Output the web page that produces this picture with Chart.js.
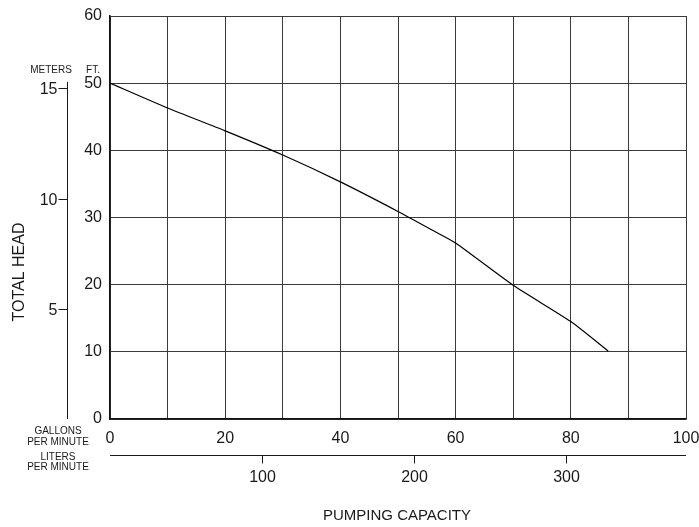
<!DOCTYPE html>
<html>
<head>
<meta charset="utf-8">
<script src="https://cdn.jsdelivr.net/npm/chart.js@4"></script>
<style>
  html, body { margin: 0; padding: 0; background: #fff; }
  #wrap { width: 699px; height: 527px; }
</style>
</head>
<body>
<div id="wrap"><canvas id="curva"></canvas></div>
<script>
// Pump curve
const gpm = [0, 10, 20, 30, 40, 50, 56, 60, 70, 80, 86.5];
const headFt = [50, 46.3, 42.9, 39.3, 35.3, 30.9, 28.1, 26.2, 19.9, 14.5, 10.1];

// Axis ticks
const ftTicks = [0, 10, 20, 30, 40, 50, 60];
const meterTicks = [0, 5, 10, 15];
const literTicks = [100, 200, 300];

const FT_PER_M = 3.28084;
const L_PER_GAL = 3.78541;
const FONT = 'Liberation Sans, Arial, sans-serif';
const INK = '#1a1a1a';

// Secondary axes (meters and liters) + titles drawn from the chart's own scales
const extraAxes = {
    id: 'extraAxes',
    afterDraw(chart) {
        const c = chart.ctx;
        const xs = chart.scales.x, ys = chart.scales.y;
        c.save();
        c.strokeStyle = INK;
        c.fillStyle = INK;
        c.lineWidth = 1;

        // meters axis
        const mx = 67.5;
        c.beginPath();
        c.moveTo(mx, ys.getPixelForValue(0));
        c.lineTo(mx, ys.getPixelForValue(15.3 * FT_PER_M));
        c.stroke();
        c.font = '16px ' + FONT;
        c.textAlign = 'right';
        c.textBaseline = 'middle';
        meterTicks.forEach(m => {
            if (m === 0) return;
            const py = Math.round(ys.getPixelForValue(m * FT_PER_M)) + 0.5;
            c.beginPath();
            c.moveTo(mx - 9, py);
            c.lineTo(mx, py);
            c.stroke();
            c.fillText(String(m), mx - 10, py + 1);
        });

        c.font = '10px ' + FONT;
        c.textAlign = 'center';
        c.fillText('METERS', 51, 70);
        c.fillText('FT.', 93, 70);

        // liters axis
        const ly = 455.5;
        c.beginPath();
        c.moveTo(xs.getPixelForValue(0), ly);
        c.lineTo(xs.getPixelForValue(100), ly);
        c.stroke();
        c.font = '16px ' + FONT;
        literTicks.forEach(l => {
            const px = Math.round(xs.getPixelForValue(l / L_PER_GAL)) + 0.5;
            c.beginPath();
            c.moveTo(px, ly);
            c.lineTo(px, ly + 8);
            c.stroke();
            c.fillText(String(l), px, 478);
        });

        c.font = '10px ' + FONT;
        c.fillText('GALLONS', 58, 431);
        c.fillText('PER MINUTE', 58, 442);
        c.fillText('LITERS', 58, 457);
        c.fillText('PER MINUTE', 58, 467);

        // titles
        c.font = '15px ' + FONT;
        c.fillText('PUMPING CAPACITY', 397, 516);
        c.translate(20, 272);
        c.rotate(-Math.PI / 2);
        c.font = '16px ' + FONT;
        c.fillText('TOTAL HEAD', 0, 0);
        c.restore();
    }
};

const ctx = document.getElementById('curva').getContext('2d');
const curva = new Chart(ctx, {
    type: 'line',
    data: {
        datasets: [{
            data: gpm.map((g, i) => ({ x: g, y: headFt[i] })),
            borderColor: '#000',
            borderWidth: 1.2,
            pointRadius: 0,
            tension: 0.2,
            fill: false
        }]
    },
    options: {
        responsive: true,
        maintainAspectRatio: false,
        animation: false,
        layout: { padding: { top: 16, right: 13, left: 0, bottom: 0 } },
        plugins: { legend: { display: false }, tooltip: { enabled: false } },
        scales: {
            x: {
                type: 'linear',
                min: 0, max: 100,
                afterFit(scale) {
                    scale.height = 108;
                    scale.paddingLeft = 0;
                    scale.paddingRight = 0;
                },
                ticks: {
                    stepSize: 10,
                    color: INK,
                    font: { family: FONT, size: 16 },
                    padding: 10,
                    maxRotation: 0,
                    callback: v => (v % 20 === 0 ? String(v) : '')
                },
                grid: { color: '#3a3a3a', lineWidth: 1, drawTicks: false },
                border: { color: '#111', width: 1.5 }
            },
            y: {
                min: 0, max: 60,
                afterFit(scale) {
                    scale.width = 110;
                    scale.paddingTop = 0;
                    scale.paddingBottom = 0;
                },
                afterBuildTicks(scale) { scale.ticks = ftTicks.map(v => ({ value: v })); },
                ticks: {
                    color: INK,
                    font: { family: FONT, size: 16 },
                    padding: 8
                },
                grid: { color: '#3a3a3a', lineWidth: 1, drawTicks: false },
                border: { color: '#111', width: 1.5 }
            }
        }
    },
    plugins: [extraAxes]
});
</script>
</body>
</html>
